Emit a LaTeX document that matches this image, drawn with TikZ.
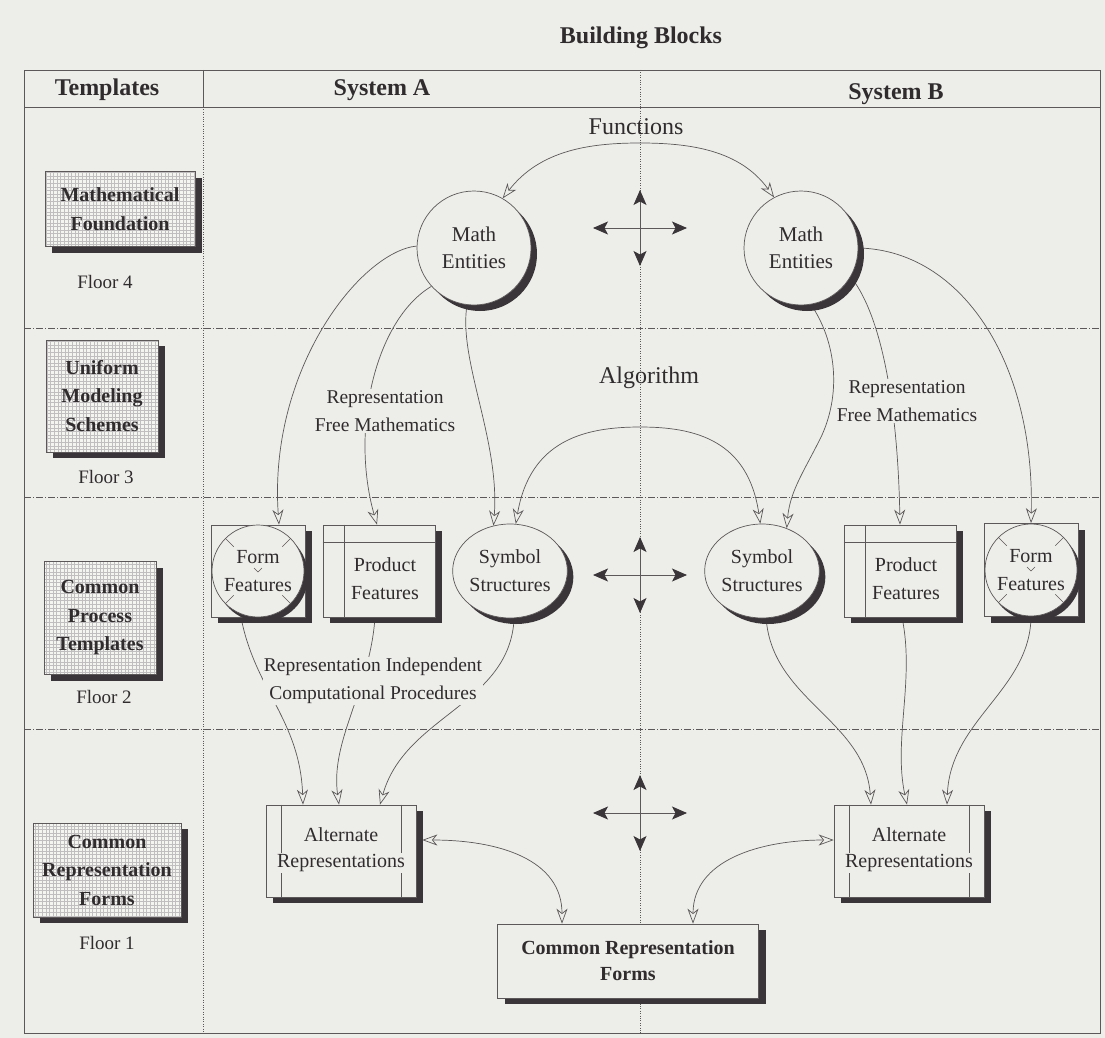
\documentclass[tikz,border=0pt]{standalone}
\usepackage{fontspec}
\setmainfont{Liberation Serif}
\usetikzlibrary{arrows.meta,shapes.geometric,shadows,calc}
\pgfdeclarelayer{paper}
\pgfdeclarelayer{links}
\pgfsetlayers{paper,links,main}

\definecolor{paper}{RGB}{237,237,233}
\definecolor{tplfill}{RGB}{244,244,241}
\definecolor{ink}{RGB}{48,44,46}
\definecolor{rule}{RGB}{92,88,89}
\definecolor{shade}{RGB}{58,53,56}
\definecolor{hatch}{RGB}{192,190,190}

\tikzset{
  hdr/.style={font=\bfseries\fontsize{24}{28}\selectfont, text=ink, inner sep=0pt},
  word/.style={font=\fontsize{20}{28}\selectfont, text=ink, align=center},
  bigword/.style={font=\fontsize{24}{28}\selectfont, text=ink, inner sep=0pt},
  floortag/.style={font=\fontsize{19}{24}\selectfont, text=ink, inner sep=0pt},
  boxshadow/.style={drop shadow={shadow xshift=7pt, shadow yshift=-6pt, fill=shade, opacity=1}},
  orbshadow/.style={drop shadow={shadow xshift=6pt, shadow yshift=-6pt, fill=shade, opacity=1}},
  tplbox/.style={rectangle, draw=rule, line width=0.6pt, fill=tplfill, text=ink,
    align=center, inner sep=0pt, font=\bfseries\fontsize{20}{28.5}\selectfont,
    path picture={\draw[hatch, line width=0.35pt]
      (path picture bounding box.south west) grid[step=3.6pt]
      (path picture bounding box.north east);},
    boxshadow},
  orb/.style={circle, draw=rule, line width=0.7pt, fill=paper, minimum size=114pt,
    inner sep=0pt, word, font=\fontsize{21}{27}\selectfont, orbshadow},
  egg/.style={ellipse, draw=rule, line width=0.7pt, fill=paper, minimum width=114pt,
    minimum height=94pt, inner sep=0pt, word, orbshadow},
  plainbox/.style={rectangle, draw=rule, line width=0.7pt, fill=paper, inner sep=0pt, boxshadow},
  featorb/.style={circle, draw=rule, line width=0.7pt, fill=paper, minimum size=92pt,
    inner sep=0pt, word, drop shadow={shadow xshift=4pt, shadow yshift=-5pt, fill=shade, opacity=1}},
  crfbox/.style={plainbox, minimum width=261pt, minimum height=74pt, align=center,
    text=ink, font=\bfseries\fontsize{20}{26}\selectfont},
  lbl/.style={word, font=\fontsize{19.5}{28}\selectfont, fill=paper, inner sep=1pt},
  tipopen/.tip={Stealth[length=15pt, width=11pt, inset=4.5pt, fill=paper]},
  flow/.style={draw=rule, line width=0.7pt, -tipopen},
  both/.style={draw=rule, line width=0.7pt, tipopen-tipopen},
  tipdark/.tip={Stealth[length=15pt, width=13pt, inset=3.5pt, color=shade]},
  crossarr/.style={draw=rule, line width=0.9pt, tipdark-tipdark},
  frameline/.style={draw=rule, line width=0.7pt},
  dotline/.style={draw=rule, line width=0.6pt, dash pattern=on 1pt off 1.4pt},
  floorline/.style={draw=rule, line width=0.6pt, dash pattern=on 7pt off 2pt on 1pt off 2pt},
}

\begin{document}
\begin{tikzpicture}[x=1pt, y=-1pt]
\useasboundingbox (0,0) rectangle (1105,1038);

% ---------- page, frame and floor grid ----------
\begin{pgfonlayer}{paper}
  \fill[paper] (0,0) rectangle (1105,1038);
  \draw[frameline] (24,70) rectangle (1100,1033);
  \draw[frameline] (24,107) -- (1100,107);
  \draw[frameline] (203,70) -- (203,107);
  \draw[dotline] (203,107) -- (203,1033);
  \draw[dotline] (640,70) -- (640,1033);
  \foreach \yy in {328,497,729} \draw[floorline] (24,\yy) -- (1100,\yy);
\end{pgfonlayer}

% ---------- headings ----------
\node[hdr] (title) at (641,38) {Building Blocks};
\node[hdr] (hTpl)  at (107,90) {Templates};
\node[hdr] (hSysA) at (382,90) {System A};
\node[hdr] (hSysB) at (896,94) {System B};

% ---------- template column ----------
\node[tplbox, minimum width=150pt, minimum height=75pt]  (tpl4) at (120,209) {Mathematical\\Foundation};
\node[tplbox, minimum width=112pt, minimum height=112pt] (tpl3) at (102,396) {Uniform\\Modeling\\Schemes};
\node[tplbox, minimum width=112pt, minimum height=113pt] (tpl2) at (100,618) {Common\\Process\\Templates};
\node[tplbox, minimum width=148pt, minimum height=94pt]  (tpl1) at (107,870) {Common\\Representation\\Forms};
\node[floortag] (fl4) at (105,282) {Floor 4};
\node[floortag] (fl3) at (106,477) {Floor 3};
\node[floortag] (fl2) at (104,697) {Floor 2};
\node[floortag] (fl1) at (107,943) {Floor 1};

% ---------- floor 4 ----------
\node[orb] (mathA) at (474,248) {Math\\Entities};
\node[orb] (mathB) at (801,248) {Math\\Entities};
\node[bigword] (fn) at (636,127) {Functions};

% ---------- floor 3 ----------
\node[bigword] (alg) at (649,378) {Algorithm};
\node[lbl] (rfmA) at (385,411) {Representation\\Free Mathematics};
\node[lbl] (rfmB) at (907,401) {Representation\\Free Mathematics};

% ---------- floor 2 ----------
\node[plainbox, minimum width=94pt, minimum height=92pt] (formA) at (258,571) {};
\node[featorb] (formAc) at (formA.center) {Form\\Features};
\node[plainbox, minimum width=94pt, minimum height=93pt] (formB) at (1031,570) {};
\node[featorb] (formBc) at (formB.center) {Form\\Features};
\foreach \f in {formAc,formBc}{
  \foreach \a in {45,135,225,315}
    \draw[rule, line width=0.6pt] (\f.\a) -- ($(\f.center)!0.74!(\f.\a)$);
  \draw[rule, line width=0.6pt] ($(\f.center)+(-4,-3)$) -- ($(\f.center)+(0,1)$) -- ($(\f.center)+(4,-3)$);
}

\node[plainbox, minimum width=112pt, minimum height=92pt] (prodA) at (379,571) {};
\node[plainbox, minimum width=112pt, minimum height=92pt] (prodB) at (900,571) {};
\foreach \p in {prodA,prodB}{
  \draw[rule, line width=0.6pt] ($(\p.north west)+(22,0)$) -- ($(\p.south west)+(22,0)$);
  \draw[rule, line width=0.6pt] ($(\p.north west)+(0,18)$) -- ($(\p.north east)+(0,18)$);
}
\node[word] (prodAt) at ($(prodA.center)+(6,8)$) {Product\\Features};
\node[word] (prodBt) at ($(prodB.center)+(6,8)$) {Product\\Features};

\node[egg] (symA) at (510,571) {Symbol\\Structures};
\node[egg] (symB) at (762,571) {Symbol\\Structures};

\node[lbl] (ric) at (373,681) {Representation Independent\\Computational Procedures};

% ---------- floor 1 ----------
\node[plainbox, minimum width=150pt, minimum height=92pt] (altA) at (341,851) {};
\node[plainbox, minimum width=150pt, minimum height=92pt] (altB) at (909,851) {};
\foreach \b in {altA,altB}{
  \draw[rule, line width=0.6pt] ($(\b.north west)+(16,0)$) -- ($(\b.south west)+(16,0)$);
  \draw[rule, line width=0.6pt] ($(\b.north east)+(-15,0)$) -- ($(\b.south east)+(-15,0)$);
}
\node[word, inner sep=0pt] (altAt1) at (341,835) {Alternate};
\node[word, fill=paper, inner sep=1pt] (altAt2) at (341,863) {Representations};
\node[word, inner sep=0pt] (altBt1) at (909,835) {Alternate};
\node[word, fill=paper, inner sep=1pt] (altBt2) at (909,863) {Representations};

\node[crfbox] (crf) at (628,961) {Common Representation\\Forms};

% ---------- interchange crosses on the centre line ----------
\coordinate (x1) at (640,228);
\coordinate (x2) at (640,575);
\coordinate (x3) at (640,813);
\foreach \c in {x1,x2,x3}{
  \draw[crossarr] ($(\c)+(-47,0)$) -- ($(\c)+(47,0)$);
  \draw[crossarr] ($(\c)+(0,-38)$) -- ($(\c)+(0,38)$);
}

% ---------- connectors ----------
\begin{pgfonlayer}{links}
  % functions and algorithms between the two systems
  \draw[both] (mathA.60) .. controls (540,150) and (590,143) .. (640,143)
              .. controls (690,143) and (740,150) .. (mathB.118);
  \draw[both] (symA.83) .. controls (530,440) and (585,427) .. (640,427)
              .. controls (695,427) and (748,440) .. (symB.92);

  % system A, floor 4 to floor 2
  \draw[flow] (mathA.178) .. controls (360,252) and (268,370) .. ($(formA.north)+(21,0)$);
  \draw[flow] (mathA.222) .. controls (375,320) and (350,430) .. ($(prodA.north)+(-2,0)$);
  \draw[flow] (mathA.263) .. controls (458,360) and (500,440) .. (symA.110);

  % system B, floor 4 to floor 2
  \draw[flow] (mathB.0) .. controls (960,250) and (1035,360) .. (formB.north);
  \draw[flow] (mathB.-30) .. controls (885,320) and (898,420) .. (prodB.north);
  \draw[flow] (mathB.-80) .. controls (835,340) and (842,390) .. (822,435)
              .. controls (805,470) and (790,490) .. (symB.60);

  % system A, floor 2 to floor 1
  \draw[flow] ($(formA.south)+(-17,0)$) .. controls (255,690) and (300,720) .. ($(altA.north)+(-38,0)$);
  \draw[flow] ($(prodA.south)+(-4,0)$) .. controls (370,690) and (330,740) .. ($(altA.north)+(-2,0)$);
  \draw[flow] (symA.-85) .. controls (510,705) and (405,715) .. ($(altA.north)+(39,0)$);

  % system B, floor 2 to floor 1
  \draw[flow] (symB.-85) .. controls (772,700) and (865,720) .. ($(altB.north)+(-38,0)$);
  \draw[flow] ($(prodB.south)+(2,0)$) .. controls (915,680) and (893,740) .. ($(altB.north)+(-2,0)$);
  \draw[flow] (formB.south) .. controls (1030,690) and (950,720) .. ($(altB.north)+(38,0)$);

  % alternate representations to the common forms
  \draw[both] ($(altA.east)+(6,-11)$) .. controls (500,840) and (562,860) .. ($(crf.north)+(-66,0)$);
  \draw[both] ($(altB.west)+(0,-11)$) .. controls (760,840) and (693,860) .. ($(crf.north)+(65,0)$);
\end{pgfonlayer}
\end{tikzpicture}
\end{document}
